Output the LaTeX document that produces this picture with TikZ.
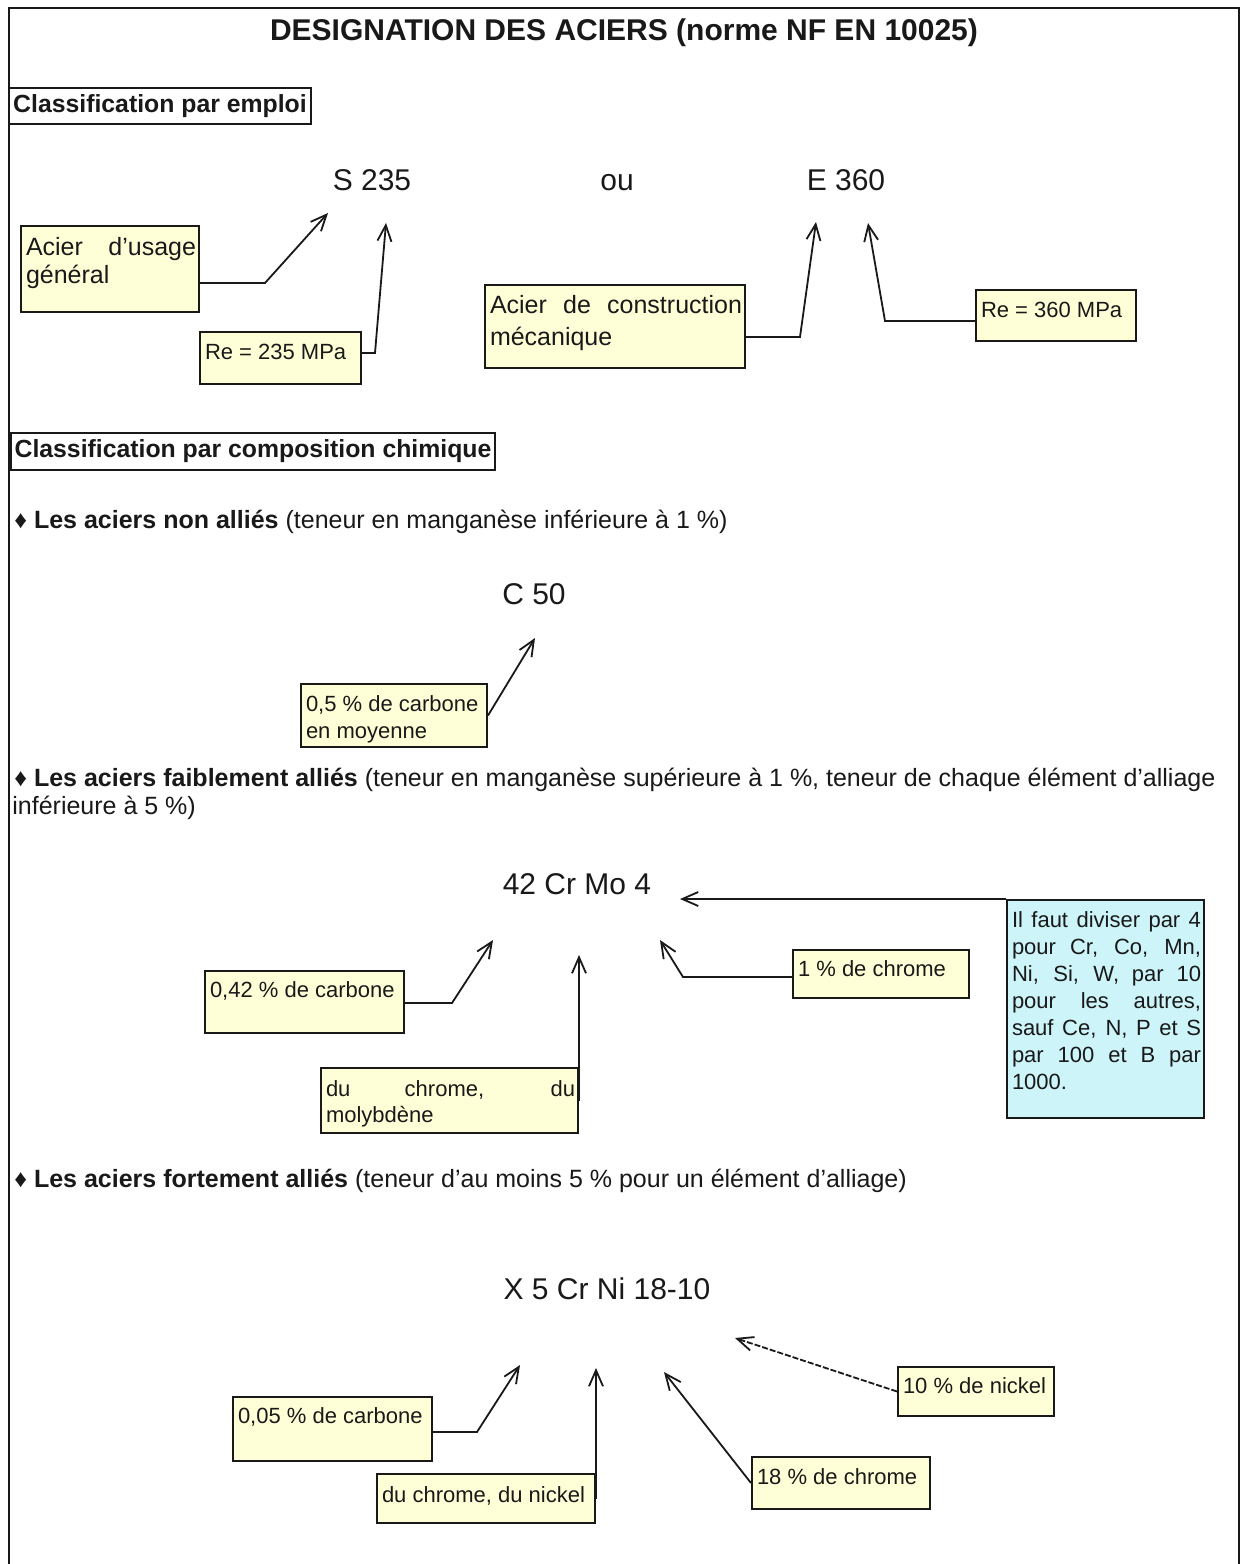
\documentclass[tikz,border=0pt]{standalone}
\usepackage{fontspec}
\setmainfont{Liberation Sans}
\usetikzlibrary{arrows.meta}
\definecolor{ybox}{RGB}{255,255,215}
\definecolor{cbox}{RGB}{205,244,248}
\definecolor{ink}{RGB}{25,25,25}
\newcommand\bt[5]{\vbox to #2{\hsize=#1\relax\parindent=0pt\parskip=0pt\leftskip=2.5pt\rightskip=1.5pt\baselineskip=#3\relax\lineskiplimit=-20pt\noindent\rule{0pt}{#4}#5\par\vss}}
\tikzset{
  boxy/.style={draw=ink, line width=1pt, fill=ybox, inner sep=0pt, anchor=north west, text=ink, font=\fontsize{11}{13.5}\selectfont},
  boxc/.style={boxy, fill=cbox},
  boxbig/.style={boxy, font=\fontsize{12.5}{15}\selectfont},
  head/.style={draw=ink, line width=1pt, inner sep=2pt, text=ink, font=\fontsize{12.4}{15}\selectfont\bfseries},
  code/.style={inner sep=0pt, text=ink, font=\fontsize{15}{18}\selectfont},
  bul/.style={inner sep=0pt, anchor=west, text=ink, font=\fontsize{12.5}{15}\selectfont},
  con/.style={draw=ink, line width=0.9pt, -{Straight Barb[length=8pt,width=7pt]}},
}
\begin{document}
\begin{tikzpicture}[x=0.5pt,y=-0.5pt]
\useasboundingbox (0,0) rectangle (1244,1564);
\fill[white] (0,0) rectangle (1244,1564);
% frame
\draw[ink, line width=1pt] (9,1564) -- (9,8) -- (1239,8) -- (1239,1564);
% title
\node[inner sep=0pt, text=ink, font=\fontsize{15}{18}\selectfont\bfseries] (title) at (624,33) {DESIGNATION DES ACIERS (norme NF EN 10025)};
% section 1
\node[head, minimum width=150pt, minimum height=18pt] (cls1) at (160,106) {Classification par emploi};
\node[code, anchor=base] (s235) at (372,190.5) {S 235};
\node[code, anchor=base] (ou) at (617,190.5) {ou};
\node[code, anchor=base] (e360) at (846,190.5) {E 360};

\node[boxbig] (b1) at (20,225) {\bt{89pt}{43pt}{14pt}{14.5pt}{Acier d’usage\break général}};
\node[boxy] (b2) at (199,331) {\bt{80.5pt}{26pt}{13.5pt}{13.5pt}{Re = 235 MPa}};
\node[boxbig] (b3) at (484,284) {\bt{130pt}{41.5pt}{16pt}{14pt}{Acier de construction\break mécanique}};
\node[boxy] (b4) at (975,289) {\bt{80pt}{25.5pt}{13.5pt}{13.5pt}{Re = 360 MPa}};

\coordinate (k1) at (265,283); \coordinate (a1) at (328,213);
\coordinate (k2) at (375,353); \coordinate (a2) at (386,223);
\coordinate (k3) at (800,337); \coordinate (a3) at (816,222);
\coordinate (k4) at (885,321); \coordinate (a4) at (868,223);
\draw[con] (b1.east |- k1) -- (k1) -- (a1);
\draw[con] (b2.east |- k2) -- (k2) -- (a2);
\draw[con] (b3.east |- k3) -- (k3) -- (a3);
\draw[con] (b4.west |- k4) -- (k4) -- (a4);

% section 2
\node[head, minimum width=241pt, minimum height=18.5pt] (cls2) at (253,451.5) {Classification par composition chimique};

\node[bul] (l1) at (14,522) {{\bfseries ♦ Les aciers non alliés} (teneur en manganèse inférieure à 1 \%)};
\node[code] (c50) at (534,594) {C 50};
\node[boxy] (b5) at (300,683) {\bt{93pt}{31.5pt}{13.5pt}{13.5pt}{0,5 \% de carbone\\en moyenne}};
\coordinate (a5) at (535,638);
\draw[con] (b5.east) -- (a5);

\node[bul] (l2) at (14,780) {{\bfseries ♦ Les aciers faiblement alliés} (teneur en manganèse supérieure à 1 \%, teneur de chaque élément d’alliage};
\node[bul] (l2b) at (12,808) {inférieure à 5 \%)};

\node[code] (crmo) at (577,884) {42 Cr Mo 4};
\node[boxc] (b6) at (1006,899) {\bt{98.5pt}{109pt}{13.5pt}{13.5pt}{Il faut diviser par 4\break pour Cr, Co, Mn,\break Ni, Si, W, par 10\break pour les autres,\break sauf Ce, N, P et S\break par 100 et B par\break 1000.}};
\node[boxy] (b7) at (792,949) {\bt{88pt}{24pt}{13.5pt}{13pt}{1 \% de chrome}};
\node[boxy] (b8) at (204,970) {\bt{99.5pt}{31pt}{13.5pt}{13pt}{0,42 \% de carbone}};
\node[boxy] (b9) at (320,1067) {\bt{128.5pt}{32.5pt}{13pt}{14pt}{du chrome, du\break molybdène}};

\coordinate (a6) at (680,899);
\coordinate (k7) at (683,977); \coordinate (a7) at (660,940);
\coordinate (k8) at (452,1003); \coordinate (a8) at (493,940);
\coordinate (a9) at (577,955);
\draw[con] (b6.north west) -- (a6);
\draw[con] (b7.west |- k7) -- (k7) -- (a7);
\draw[con] (b8.east |- k8) -- (k8) -- (a8);
\draw[con] (b9.east) -- (b9.east |- a9);

% fortement allies
\node[bul] (l3) at (14,1181) {{\bfseries ♦ Les aciers fortement alliés} (teneur d’au moins 5 \% pour un élément d’alliage)};
\node[code] (x5) at (607,1289) {X 5 Cr Ni 18-10};
\node[boxy] (b10) at (232,1396) {\bt{99.5pt}{32pt}{13.5pt}{13pt}{0,05 \% de carbone}};
\node[boxy] (b11) at (376,1473) {\bt{109pt}{24.5pt}{13.5pt}{14pt}{du chrome, du nickel}};
\node[boxy] (b12) at (751,1456) {\bt{89pt}{26pt}{13.5pt}{13.5pt}{18 \% de chrome}};
\node[boxy] (b13) at (897,1366) {\bt{78pt}{24.5pt}{13.5pt}{13pt}{10 \% de nickel}};

\coordinate (k10) at (477,1432); \coordinate (a10) at (520,1365);
\coordinate (a11) at (594,1368);
\coordinate (a12) at (664,1372);
\coordinate (a13) at (735,1338);
\draw[con] (b10.east |- k10) -- (k10) -- (a10);
\draw[con] (b11.east) -- (b11.east |- a11);
\draw[con] (b12.west) -- (a12);
\draw[con, dash pattern=on 3pt off 1pt] (b13.west) -- (a13);
\end{tikzpicture}
\end{document}
